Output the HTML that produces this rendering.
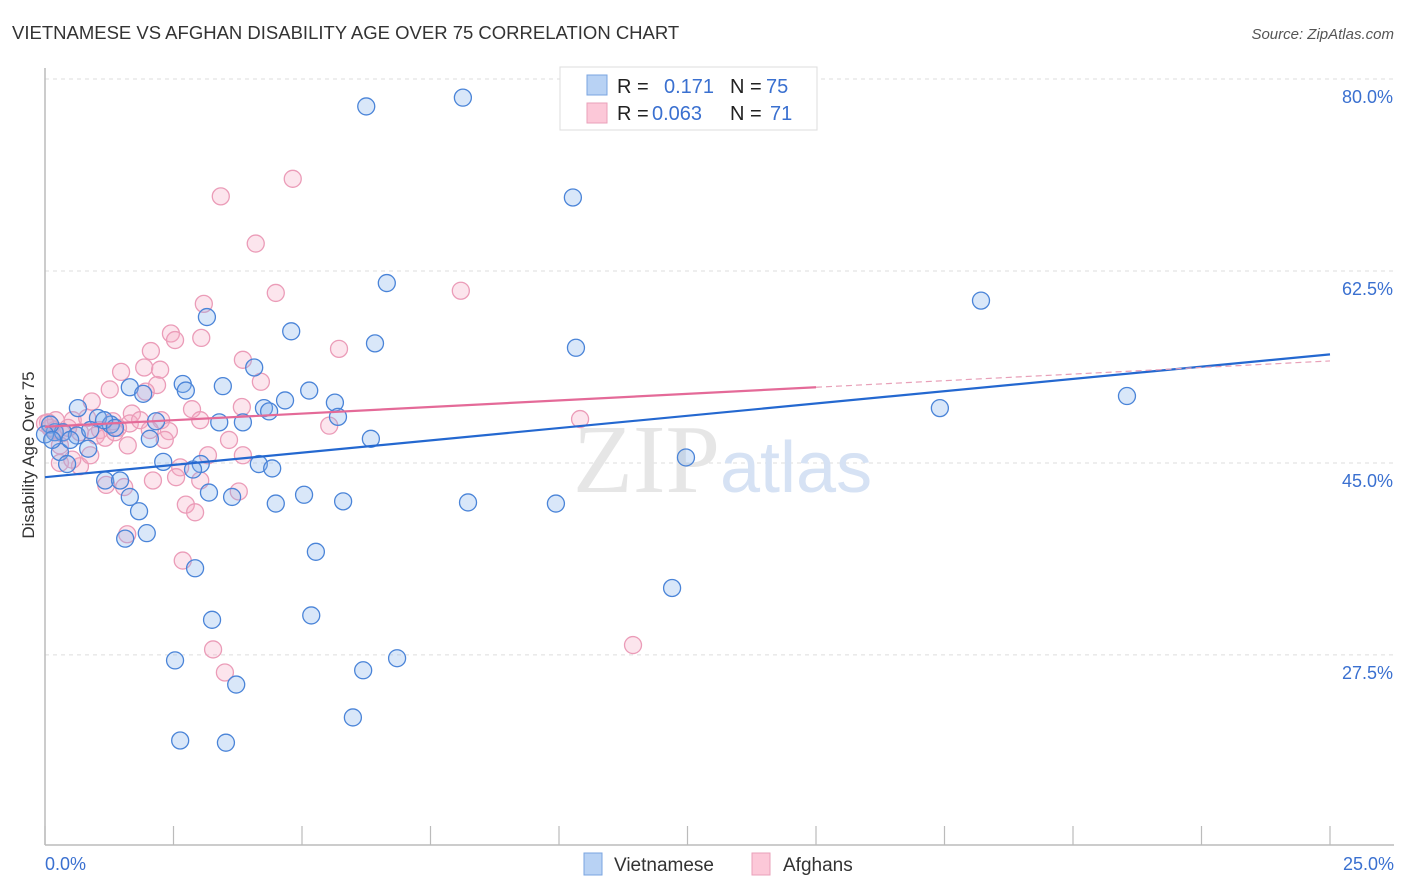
<!DOCTYPE html>
<html><head><meta charset="utf-8"><style>
body{margin:0;background:#fff;font-family:"Liberation Sans",sans-serif;}
svg{display:block}
</style></head><body>
<svg id="chart" width="1406" height="892">
<text x="12" y="39" font-size="18.5" fill="#333">VIETNAMESE VS AFGHAN DISABILITY AGE OVER 75 CORRELATION CHART</text>
<text x="1394" y="39" font-size="15" fill="#555" font-style="italic" text-anchor="end">Source: ZipAtlas.com</text>
<text x="34" y="455" font-size="17" fill="#333" text-anchor="middle" transform="rotate(-90 34 455)">Disability Age Over 75</text>
<g id="grid"></g>
<line x1="45" y1="68" x2="45" y2="845" stroke="#bbb" stroke-width="1.5"/>
<line x1="45" y1="845" x2="1394" y2="845" stroke="#bbb" stroke-width="1.5"/>
<g id="xticks"></g>
<text x="720" y="492" font-size="98" fill="#e6e6e6" text-anchor="end" font-family="Liberation Serif,serif">ZIP</text>
<text x="720" y="492" font-size="72" fill="#d6e2f4">atlas</text>
<g id="pink"></g><g id="blue"></g><g id="trends"></g>
<text x="45" y="870" font-size="18" fill="#3a70d0">0.0%</text>
<text x="1394" y="870" font-size="18" fill="#3a70d0" text-anchor="end">25.0%</text>
<rect x="584" y="853" width="18" height="22" fill="#b8d2f4" stroke="#7aa4e0"/>
<text x="614" y="871" font-size="19" fill="#333">Vietnamese</text>
<rect x="752" y="853" width="18" height="22" fill="#fcc8d8" stroke="#eaa0ba"/>
<text x="783" y="871" font-size="19" fill="#333">Afghans</text>
<g>
<rect x="560" y="67" width="257" height="63" fill="#fff" stroke="#ddd"/>
<rect x="587" y="75" width="20" height="20" fill="#b8d2f4" stroke="#7aa4e0"/>
<rect x="587" y="103" width="20" height="20" fill="#fcc8d8" stroke="#eaa0ba"/>
<text x="617" y="93" font-size="20" fill="#222">R = </text><text x="664" y="93" font-size="20" fill="#3a70d0">0.171</text>
<text x="730" y="93" font-size="20" fill="#222">N = </text><text x="766" y="93" font-size="20" fill="#3a70d0">75</text>
<text x="617" y="120" font-size="20" fill="#222">R = </text><text x="652" y="120" font-size="20" fill="#3a70d0">0.063</text>
<text x="730" y="120" font-size="20" fill="#222">N = </text><text x="770" y="120" font-size="20" fill="#3a70d0">71</text>
</g>
</svg>
<script>
const yTicks=[80,62.5,45,27.5];
const yTickLabels=["80.0%","62.5%","45.0%","27.5%"];
const blueX=[6.25,8.13,10.27,6.65,18.21,3.15,4.79,6.42,10.33,4.07,1.65,2.68,3.46,2.74,1.91,5.14,5.64,0.64,17.41,21.05,4.26,4.36,4.67,5.70,1.03,2.16,3.39,3.85,1.28,0.19,0.35,0.62,2.04,6.34,0.84,0.29,2.30,0.43,3.03,12.47,4.16,4.42,2.88,1.17,1.46,1.65,3.19,5.04,3.64,4.49,5.80,8.23,9.94,1.83,1.98,1.56,5.27,2.92,12.20,3.25,5.18,2.53,6.19,6.85,3.72,5.99,2.63,3.52,0.10,0.0,0.14,1.15,1.36,0.49,0.88];
const blueY=[77.5,78.3,69.2,61.4,59.8,58.3,57.0,55.9,55.5,53.7,51.9,52.2,52.0,51.6,51.3,51.6,50.5,50.0,50.0,51.1,50.0,49.7,50.7,49.2,49.1,48.8,48.7,48.7,48.5,47.8,47.8,47.5,47.2,47.2,46.3,46.0,45.1,44.9,44.9,45.5,44.9,44.5,44.4,43.4,43.4,41.9,42.3,42.1,41.9,41.3,41.5,41.4,41.3,40.6,38.6,38.1,36.9,35.4,33.6,30.7,31.1,27.0,26.1,27.2,24.8,21.8,19.7,19.5,48.5,47.6,47.1,48.9,48.2,47.1,48.0];
const pinkX=[4.82,3.42,4.10,4.49,8.09,3.09,2.45,3.04,2.06,5.72,3.85,1.93,1.48,2.18,4.20,1.26,1.96,0.91,2.86,3.83,1.69,2.26,1.32,0.54,0.82,1.65,0.06,0.19,0.33,0.68,1.07,1.42,2.41,3.58,5.53,10.41,3.17,0.29,0.68,2.63,2.55,2.10,1.54,1.19,2.74,2.92,3.77,1.60,2.68,3.27,3.50,11.44,0.10,0.45,0.99,1.17,2.33,0.21,0.0,1.36,1.85,0.53,0.88,3.02,3.85,2.24,2.53,3.02,1.61,2.04,0.29];
const pinkY=[70.9,69.3,65.0,60.5,60.7,59.5,56.8,56.4,55.2,55.4,54.4,53.7,53.3,52.1,52.4,51.7,51.5,50.6,49.9,50.1,49.5,48.9,48.8,48.9,49.1,48.6,48.7,48.0,47.7,47.8,48.0,48.2,47.9,47.1,48.4,49.0,45.7,45.0,44.7,44.6,43.7,43.4,42.8,43.0,41.2,40.5,42.4,38.5,36.1,28.0,25.9,28.4,48.2,48.2,47.5,47.3,47.1,48.9,48.6,47.8,48.9,45.3,45.7,43.4,45.7,53.5,56.2,48.9,46.6,48.0,46.6];
const blueTrend=[43.7,54.9];
const pinkTrend=[48.3,54.3];
const pinkSolidEnd=15;
const xTicks=[0,2.5,5,7.5,10,12.5,15,17.5,20,22.5,25];

const NS="http://www.w3.org/2000/svg";
const X=v=>45+v*51.4;
const Y=v=>79+(80-v)*10.97;
function mk(tag,attrs,parent){const e=document.createElementNS(NS,tag);for(const k in attrs)e.setAttribute(k,attrs[k]);document.getElementById(parent).appendChild(e);return e;}

yTicks.forEach((t,i)=>{
  const l=mk('line',{x1:45,x2:1394,y1:Y(t),y2:Y(t),stroke:'#ddd','stroke-dasharray':'4,4'},'grid');
  
  
  const tx=mk('text',{x:1393,y:Y(t)+24,'font-size':18,fill:'#3a70d0','text-anchor':'end'},'grid');
  tx.textContent=yTickLabels[i];
  
  
});
xTicks.forEach(t=>{
  const l=mk('line',{x1:X(t),x2:X(t),y1:826,y2:845,stroke:'#bbb','stroke-width':1.2},'xticks');
  
  
});
pinkX.forEach((v,i)=>{
  const c=mk('circle',{cx:X(v),cy:Y(pinkY[i]),r:8.5,fill:'rgba(246,170,195,0.3)',stroke:'#eb9cb8','stroke-width':1.3},'pink');
  
  
});
blueX.forEach((v,i)=>{
  const c=mk('circle',{cx:X(v),cy:Y(blueY[i]),r:8.5,fill:'rgba(130,175,235,0.3)',stroke:'#4a84d8','stroke-width':1.3},'blue');
  
  
});
const bt=mk('line',{x1:X(0),y1:Y(blueTrend[0]),x2:X(25),y2:Y(blueTrend[1]),stroke:'#2468d0','stroke-width':2.2},'trends');


const pm=pinkTrend[0]+(pinkTrend[1]-pinkTrend[0])*pinkSolidEnd/25;
const pt=mk('line',{x1:X(0),y1:Y(pinkTrend[0]),x2:X(pinkSolidEnd),y2:Y(pm),stroke:'#e46a98','stroke-width':2.2},'trends');


const pd=mk('line',{x1:X(pinkSolidEnd),y1:Y(pm),x2:X(25),y2:Y(pinkTrend[1]),stroke:'#e8a0b8','stroke-width':1.2,'stroke-dasharray':'6,4'},'trends');


</script>
</body></html>
